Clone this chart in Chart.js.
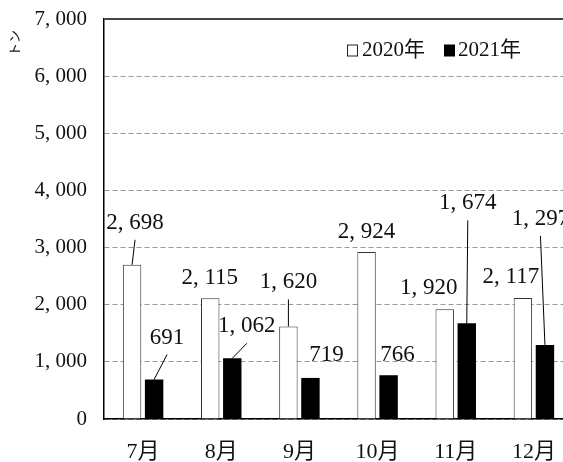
<!DOCTYPE html>
<html>
<head>
<meta charset="utf-8">
<script src="https://cdn.jsdelivr.net/npm/chart.js@4/dist/chart.umd.min.js"></script>
<style>
  html, body { margin: 0; padding: 0; background: #fff; overflow: hidden; }
  #wrap { width: 590px; height: 462px; }
</style>
</head>
<body>
<div id="wrap"><canvas id="myChart" width="590" height="462"></canvas></div>
<script>
const months = ['7月', '8月', '9月', '10月', '11月', '12月'];
const ton2020 = [2698, 2115, 1620, 2924, 1920, 2117];
const ton2021 = [691, 1062, 719, 766, 1674, 1297];
const seriesNames = ['2020年', '2021年'];

// where each value label sits, relative to the top of its bar (px), and whether it gets a leader line
const off2020 = [[3, -42], [-0.5, -20.5], [0, -44], [0, -19.5], [-16, -21], [-12, -21.5]];
const off2021 = [[13, -42], [14.5, -32], [16, -23], [9, -20], [1, -120], [-4.5, -126]];
const lead2020 = [true, false, true, false, false, false];
const lead2021 = [true, true, false, false, true, true];

const FONT = "'Liberation Serif', 'Noto Sans CJK JP', serif";

function fmt(v) {
    return v.toLocaleString('en-US').replace(',', ', ');
}

const labelPlugin = {
    id: 'valueLabels',
    afterDatasetsDraw(chart) {
        const ctx = chart.ctx;
        const offs = [off2020, off2021];
        const leads = [lead2020, lead2021];
        ctx.save();
        ctx.font = '23px ' + FONT;
        ctx.fillStyle = '#111';
        ctx.textAlign = 'center';
        ctx.textBaseline = 'middle';
        chart.data.datasets.forEach((ds, i) => {
            const meta = chart.getDatasetMeta(i);
            meta.data.forEach((bar, j) => {
                const lx = bar.x + offs[i][j][0];
                const ly = bar.y + offs[i][j][1];
                ctx.fillText(fmt(ds.data[j]), lx, ly);
                if (leads[i][j]) {
                    ctx.beginPath();
                    ctx.strokeStyle = '#000';
                    ctx.lineWidth = 1;
                    ctx.moveTo(lx, ly + 17);
                    ctx.lineTo(bar.x, bar.y);
                    ctx.stroke();
                }
            });
        });
        ctx.restore();
    },
    afterDraw(chart) {
        const ctx = chart.ctx;
        const area = chart.chartArea;
        ctx.save();
        // legend inside the plot, top right
        ctx.font = '21px ' + FONT;
        ctx.textBaseline = 'middle';
        ctx.textAlign = 'left';
        const ly = area.top + 31;
        let x = 347;
        ctx.strokeStyle = '#222';
        ctx.lineWidth = 1;
        ctx.strokeRect(x + 0.5, ly - 5, 10, 11);
        ctx.fillStyle = '#111';
        ctx.fillText(seriesNames[0], x + 15, ly);
        x = 444;
        ctx.fillStyle = '#000';
        ctx.fillRect(x, ly - 5.5, 11, 12);
        ctx.fillStyle = '#111';
        ctx.fillText(seriesNames[1], x + 14, ly);
        // unit, rotated
        ctx.translate(16, 43);
        ctx.rotate(-Math.PI / 2);
        ctx.font = '13px ' + FONT;
        ctx.textAlign = 'center';
        ctx.fillText('トン', 0, 0);
        ctx.restore();
    }
};

const datasets = [
    {
        label: seriesNames[0],
        data: ton2020,
        backgroundColor: '#fff',
        borderColor: '#333',
        borderWidth: 1
    },
    {
        label: seriesNames[1],
        data: ton2021,
        backgroundColor: '#000',
        borderColor: '#000',
        borderWidth: 0
    }
];

new Chart('myChart', {
    type: 'bar',
    data: { labels: months, datasets: datasets },
    plugins: [labelPlugin],
    options: {
        responsive: false,
        animation: false,
        layout: { padding: { top: 19, right: 17, left: 0, bottom: 0 } },
        categoryPercentage: 0.564,
        barPercentage: 0.836,
        plugins: {
            legend: { display: false },
            tooltip: { enabled: false }
        },
        scales: {
            x: {
                afterFit: (s) => { s.height = 43; },
                grid: { display: false, drawTicks: false },
                border: { display: true, color: '#000', width: 1.5 },
                ticks: {
                    color: '#111',
                    padding: 20,
                    font: { family: FONT, size: 22 }
                }
            },
            y: {
                min: 0,
                max: 7000,
                afterFit: (s) => {
                    s.width = 104;
                    s.paddingTop = 0;
                    s.paddingBottom = 0;
                },
                ticks: {
                    stepSize: 1000,
                    color: '#111',
                    padding: 17,
                    font: { family: FONT, size: 21 },
                    callback: (v) => fmt(v)
                },
                grid: {
                    drawTicks: false,
                    color: (c) => (c.tick && c.tick.value === 7000 ? '#444' : '#999'),
                    lineWidth: (c) => (c.tick && c.tick.value === 7000 ? 2 : 1)
                },
                border: {
                    display: true,
                    color: '#000',
                    width: 1.5,
                    dash: (c) => (c.tick && c.tick.value === 7000 ? [] : [5, 3])
                }
            }
        }
    }
});
</script>
</body>
</html>
